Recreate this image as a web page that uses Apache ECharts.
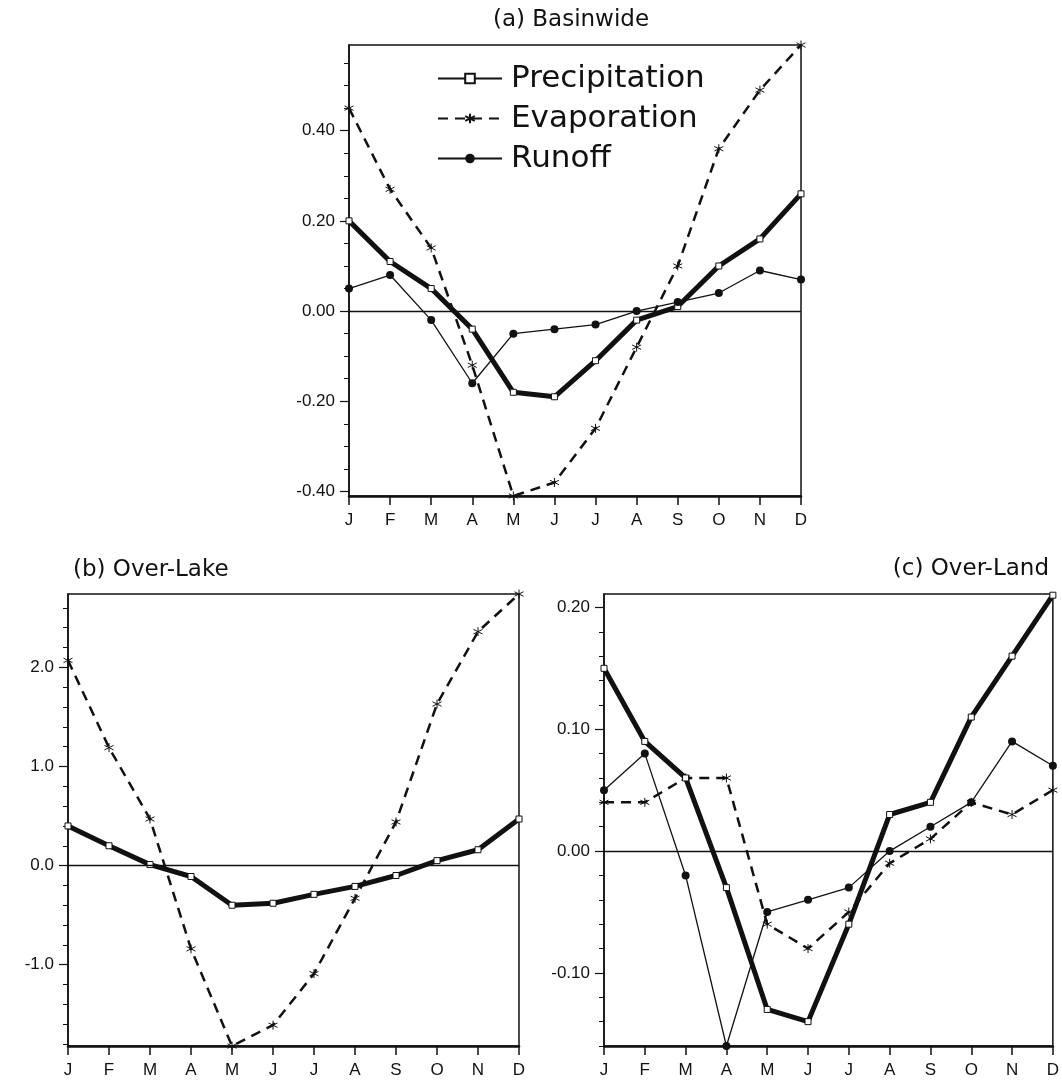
<!DOCTYPE html>
<html>
<head>
<meta charset="utf-8">
<script src="https://cdn.jsdelivr.net/npm/echarts@6/dist/echarts.min.js"></script>
<style>
  html, body { margin: 0; padding: 0; background: #fff; }
  #chart { width: 1062px; height: 1088px; }
</style>
</head>
<body>
<div id="chart"></div>
<script>
// 月份
const months = ['J', 'F', 'M', 'A', 'M', 'J', 'J', 'A', 'S', 'O', 'N', 'D'];

// (a) Basinwide
const basinPrecip = [0.20, 0.11, 0.05, -0.04, -0.18, -0.19, -0.11, -0.02, 0.01, 0.10, 0.16, 0.26];
const basinEvap = [0.45, 0.27, 0.14, -0.12, -0.41, -0.38, -0.26, -0.08, 0.10, 0.36, 0.49, 0.59];
const basinRunoff = [0.05, 0.08, -0.02, -0.16, -0.05, -0.04, -0.03, 0.00, 0.02, 0.04, 0.09, 0.07];

// (b) Over-Lake
const lakePrecip = [0.40, 0.20, 0.01, -0.11, -0.40, -0.38, -0.29, -0.21, -0.10, 0.05, 0.16, 0.47];
const lakeEvap = [2.07, 1.19, 0.47, -0.84, -1.82, -1.61, -1.09, -0.33, 0.44, 1.63, 2.36, 2.74];

// (c) Over-Land
const landPrecip = [0.15, 0.09, 0.06, -0.03, -0.13, -0.14, -0.06, 0.03, 0.04, 0.11, 0.16, 0.21];
const landEvap = [0.04, 0.04, 0.06, 0.06, -0.06, -0.08, -0.05, -0.01, 0.01, 0.04, 0.03, 0.05];
const landRunoff = [0.05, 0.08, -0.02, -0.16, -0.05, -0.04, -0.03, 0.00, 0.02, 0.04, 0.09, 0.07];

// 坐标轴刻度
const basinRange = [-0.41, 0.59];
const basinTicks = [-0.4, -0.2, 0, 0.2, 0.4];
const basinMinor = [-0.35, -0.3, -0.25, -0.15, -0.1, -0.05, 0.05, 0.1, 0.15, 0.25, 0.3, 0.35, 0.45, 0.5, 0.55];

const lakeRange = [-1.82, 2.74];
const lakeTicks = [-1, 0, 1, 2];
const lakeMinor = [-1.8, -1.6, -1.4, -1.2, -0.8, -0.6, -0.4, -0.2, 0.2, 0.4, 0.6, 0.8, 1.2, 1.4, 1.6, 1.8, 2.2, 2.4, 2.6];

const landRange = [-0.16, 0.211];
const landTicks = [-0.1, 0, 0.1, 0.2];
const landMinor = [-0.16, -0.14, -0.12, -0.08, -0.06, -0.04, -0.02, 0.02, 0.04, 0.06, 0.08, 0.12, 0.14, 0.16, 0.18];

const INK = '#111';
const labelFont = 'Liberation Sans';
const titleFont = 'DejaVu Sans';

// 星号标记
const asterisk = 'path://M5,0 L5,10 M0.7,2.5 L9.3,7.5 M0.7,7.5 L9.3,2.5';

const chart = echarts.init(document.getElementById('chart'));

function xAxisFor(gridIndex) {
  return {
    type: 'category',
    gridIndex: gridIndex,
    data: months,
    boundaryGap: false,
    axisLine: { onZero: false, lineStyle: { color: INK, width: 2.5 } },
    axisTick: { show: true, length: 9, inside: false, lineStyle: { color: INK, width: 1.5 } },
    axisLabel: { color: INK, fontSize: 17, fontFamily: labelFont, margin: 16, interval: 0 },
    splitLine: { show: false }
  };
}

function yAxesFor(gridIndex, range, ticks, minor, digits) {
  return [{
    type: 'value',
    gridIndex: gridIndex,
    min: range[0],
    max: range[1],
    axisLine: { show: true, onZero: false, lineStyle: { color: INK, width: 1.5 } },
    axisTick: { show: true, length: 9, customValues: ticks, lineStyle: { color: INK, width: 1.2 } },
    axisLabel: {
      color: INK, fontSize: 17, fontFamily: labelFont, margin: 14,
      customValues: ticks,
      formatter: v => v.toFixed(digits)
    },
    splitLine: { show: false }
  }, {
    type: 'value',
    gridIndex: gridIndex,
    position: 'left',
    offset: 0,
    min: range[0],
    max: range[1],
    axisLine: { show: false, onZero: false },
    axisTick: { show: true, length: 5, customValues: minor, lineStyle: { color: INK, width: 1 } },
    axisLabel: { show: false },
    splitLine: { show: false }
  }];
}

// 零线
const zeroLine = {
  silent: true,
  symbol: 'none',
  label: { show: false },
  lineStyle: { color: INK, width: 1.4, type: 'solid' },
  data: [{ yAxis: 0 }]
};

function precipSeries(gridIndex, data, withZero) {
  const s = {
    name: 'Precipitation',
    type: 'line',
    xAxisIndex: gridIndex,
    yAxisIndex: gridIndex * 2,
    data: data,
    symbol: 'rect',
    symbolSize: 6,
    showAllSymbol: true,
    z: 4,
    lineStyle: { color: INK, width: 5 },
    itemStyle: { color: '#fff', borderColor: INK, borderWidth: 1 }
  };
  if (withZero) s.markLine = zeroLine;
  return s;
}

function evapSeries(gridIndex, data) {
  return {
    name: 'Evaporation',
    type: 'line',
    xAxisIndex: gridIndex,
    yAxisIndex: gridIndex * 2,
    data: data,
    symbol: asterisk,
    symbolSize: 9,
    showAllSymbol: true,
    z: 3,
    lineStyle: { color: INK, width: 2.5, type: [10, 7] },
    itemStyle: { color: 'rgba(0,0,0,0)', borderColor: INK, borderWidth: 1 }
  };
}

function runoffSeries(gridIndex, data) {
  return {
    name: 'Runoff',
    type: 'line',
    xAxisIndex: gridIndex,
    yAxisIndex: gridIndex * 2,
    data: data,
    symbol: 'circle',
    symbolSize: 8,
    showAllSymbol: true,
    z: 5,
    lineStyle: { color: INK, width: 1.3 },
    itemStyle: { color: INK, borderColor: INK, borderWidth: 0 }
  };
}

const gridFrame = { show: true, borderColor: INK, borderWidth: 1.5, backgroundColor: 'transparent' };

const option = {
  animation: false,
  backgroundColor: '#fff',
  title: [
    { text: '(a) Basinwide', left: 566, top: 4, textAlign: 'center',
      textStyle: { fontFamily: titleFont, fontWeight: 'normal', fontSize: 23, color: INK } },
    { text: '(b) Over-Lake', left: 68, top: 554,
      textStyle: { fontFamily: titleFont, fontWeight: 'normal', fontSize: 23, color: INK } },
    { text: '(c) Over-Land', right: 8, top: 553,
      textStyle: { fontFamily: titleFont, fontWeight: 'normal', fontSize: 23, color: INK } }
  ],
  legend: {
    data: ['Precipitation', 'Evaporation', 'Runoff'],
    orient: 'vertical',
    left: 437,
    top: 63,
    padding: 0,
    itemWidth: 64,
    itemHeight: 12,
    itemGap: 9,
    selectedMode: false,
    textStyle: { fontFamily: titleFont, fontSize: 31, color: INK, padding: [0, 0, 0, 4] }
  },
  grid: [
    Object.assign({ left: 349, top: 45, width: 452, height: 451 }, gridFrame),
    Object.assign({ left: 68, top: 594, width: 451, height: 452 }, gridFrame),
    Object.assign({ left: 604, top: 594, width: 452, height: 452 }, gridFrame)
  ],
  xAxis: [xAxisFor(0), xAxisFor(1), xAxisFor(2)],
  yAxis: [].concat(
    yAxesFor(0, basinRange, basinTicks, basinMinor, 2),
    yAxesFor(1, lakeRange, lakeTicks, lakeMinor, 1),
    yAxesFor(2, landRange, landTicks, landMinor, 2)
  ),
  series: [
    precipSeries(0, basinPrecip, true),
    evapSeries(0, basinEvap),
    runoffSeries(0, basinRunoff),
    precipSeries(1, lakePrecip, true),
    evapSeries(1, lakeEvap),
    precipSeries(2, landPrecip, true),
    evapSeries(2, landEvap),
    runoffSeries(2, landRunoff)
  ]
};

chart.setOption(option);
</script>
</body>
</html>
